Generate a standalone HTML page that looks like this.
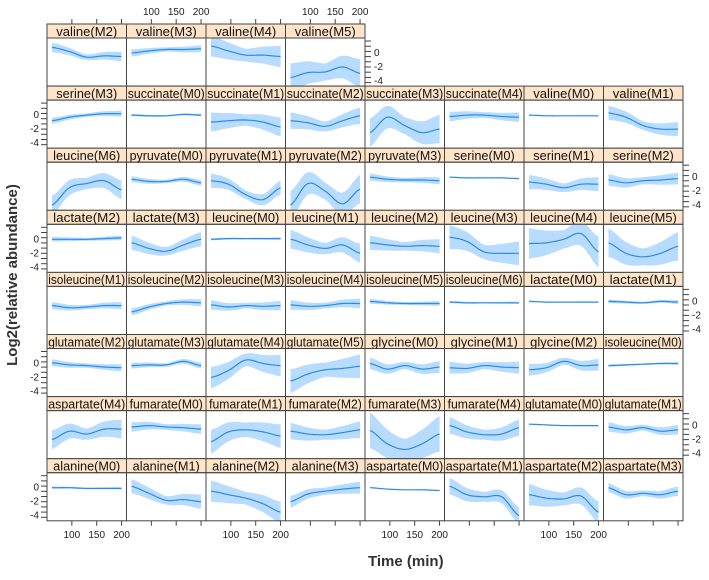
<!DOCTYPE html>
<html><head><meta charset="utf-8"><style>
body{margin:0;background:#fff;}
svg text{font-family:"Liberation Sans",sans-serif;}
</style></head><body>
<svg id="s" width="709" height="575" xmlns="http://www.w3.org/2000/svg"></svg>
<script>
const D=[
[["valine(M2)",[0.8,0.2,-0.6,-0.4,-0.5],.4],["valine(M3)",[0,0.3,0.5,0.5,0.6],.3],["valine(M4)",[1,0.3,-0.3,-0.3,-0.5],.9],["valine(M5)",[-3.5,-2.8,-2.7,-2,-2.9],1.2]],
[["serine(M3)",[-0.8,-0.3,0,0.2,0.2],.25],["succinate(M0)",[0,-0.1,-0.1,0.1,0],.1],["succinate(M1)",[-1,-0.8,-0.7,-1,-1.7],.8],["succinate(M2)",[-0.8,-1.1,-1.6,-0.8,-0.1],.7],["succinate(M3)",[-2.5,-0.3,-1.5,-2.5,-2],1.2],["succinate(M4)",[-0.2,0,0,-0.2,-0.3],.4],["valine(M0)",[0,-0.1,-0.1,-0.1,-0.1],.05],["valine(M1)",[0.3,-0.3,-1.5,-2,-2],.6]],
[["leucine(M6)",[-4,-1.5,-0.9,-0.5,-1.8],.8],["pyruvate(M0)",[-0.3,-0.6,-0.6,-0.3,-0.8],.25],["pyruvate(M1)",[-0.5,-1,-2.5,-3.2,-1.5],.6],["pyruvate(M2)",[-4,-0.9,-2,-3.8,-1.7],1.2],["pyruvate(M3)",[0,-0.3,-0.4,-0.4,-0.5],.3],["serine(M0)",[0,-0.1,-0.1,-0.1,-0.2],.05],["serine(M1)",[-0.7,-1,-1.5,-1,-1],.6],["serine(M2)",[-0.4,-0.8,-0.5,-0.4,-0.2],.5]],
[["lactate(M2)",[0,0,0,0.1,0.2],.2],["lactate(M3)",[-0.5,-1.3,-1.7,-0.8,0],.6],["leucine(M0)",[0,0.1,0.1,0.1,0.1],.1],["leucine(M1)",[0,-0.8,-1.3,-0.8,-2],.8],["leucine(M2)",[-0.5,-0.8,-1,-0.9,-1],.6],["leucine(M3)",[0.3,-0.3,-1.8,-2,-2],1],["leucine(M4)",[-0.6,-0.5,0,0.8,-1.8],1.3],["leucine(M5)",[-0.5,-2,-2.5,-2,-1],1.2]],
[["isoleucine(M1)",[-0.6,-0.9,-0.8,-0.6,-0.6],.3],["isoleucine(M2)",[-1.5,-0.8,-0.3,-0.1,-0.2],.3],["isoleucine(M3)",[-0.5,-0.8,-0.6,-0.7,-0.6],.4],["isoleucine(M4)",[-0.5,-0.7,-0.6,-0.3,-0.3],.4],["isoleucine(M5)",[0,-0.2,-0.3,-0.3,-0.3],.2],["isoleucine(M6)",[-0.1,-0.2,-0.2,-0.2,-0.2],.1],["lactate(M0)",[0,-0.1,-0.1,-0.1,-0.1],.05],["lactate(M1)",[0,-0.1,-0.2,0,-0.1],.15]],
[["glutamate(M2)",[0.1,-0.2,-0.3,-0.5,-0.6],.3],["glutamate(M3)",[-0.3,-0.2,-0.2,0.3,-0.3],.25],["glutamate(M4)",[-2,-1,0.5,0,-0.3],.9],["glutamate(M5)",[-2.5,-1.5,-0.9,-0.7,-0.4],1],["glycine(M0)",[0,-0.8,-0.3,-0.8,-0.5],.5],["glycine(M1)",[-0.6,-0.7,-0.3,-0.5,-0.6],.5],["glycine(M2)",[-0.9,-0.6,0.3,-0.3,-0.2],.5],["isoleucine(M0)",[-0.3,-0.2,-0.1,0,0],.1]],
[["aspartate(M4)",[-2,-0.8,-1.2,-0.5,-0.5],.8],["fumarate(M0)",[-0.2,0,-0.2,-0.3,-0.5],.4],["fumarate(M1)",[-2.3,-0.9,-0.6,-0.9,-1.5],1],["fumarate(M2)",[-0.8,-1.2,-1.3,-1,-0.6],.7],["fumarate(M3)",[-0.7,-2.6,-3.4,-2.6,-1.2],1.5],["fumarate(M4)",[0,-0.9,-1.3,-1.2,-0.3],.7],["glutamate(M0)",[0.2,0.1,0,0,0],.05],["glutamate(M1)",[-0.2,-0.6,-0.3,-0.8,-0.6],.4]],
[["alanine(M0)",[0,0,-0.1,-0.1,-0.1],.1],["alanine(M1)",[0.2,-0.8,-1.8,-1.7,-2],.6],["alanine(M2)",[-0.5,-1,-1.5,-2.3,-3.5],.9],["alanine(M3)",[-2,-0.9,-0.5,-0.2,0],.5],["aspartate(M0)",[0,-0.2,-0.3,-0.3,-0.4],.05],["aspartate(M1)",[0.2,-1,-1.3,-1.3,-4],.7],["aspartate(M2)",[-1,-1.5,-1.6,-1.2,-3.5],.9],["aspartate(M3)",[0,-1,-0.8,-1,-0.5],.4]]
];
const X0=47,CW=79.5,Y0=24,RP=62.1,SH=14;
let h='';
function interp(v,t){
 let i=Math.min(3,Math.floor(t)),f=t-i;
 let p0=v[Math.max(0,i-1)],p1=v[i],p2=v[i+1],p3=v[Math.min(4,i+2)];
 return 0.5*((2*p1)+(-p0+p2)*f+(2*p0-5*p1+4*p2-p3)*f*f+(-p0+3*p1-3*p2+p3)*f*f*f);
}
function tx(px,t){return px+(t-50)*0.497;}
D.forEach((row,r)=>{
 const st=Y0+RP*r, pt=st+SH, pb=Y0+RP*(r+1);
 row.forEach((p,c)=>{
  const px=X0+CW*c;
  const yv=v=>pt+15-7*v;
  let up=[],lo=[],ln=[];
  for(let k=0;k<=40;k++){
   const t=k/10, T=60+t*35, x=tx(px,T), y=interp(p[1],t);
   const w=p[2]*(1+0.7*Math.abs(t-2)/2);
   up.push([x,Math.max(pt,yv(y+w))]);lo.push([x,Math.min(pb,yv(y-w))]);ln.push(x.toFixed(1)+','+yv(y).toFixed(1));
  }
  h+=`<rect x="${px}" y="${st}" width="${CW}" height="${SH}" fill="#ffe4c8" stroke="#444" stroke-width="1"/>`;
  h+=`<text x="${px+CW/2}" y="${st+11.8}" font-size="12.5" text-anchor="middle" fill="#111" textLength="${Math.min(77,p[0].length*6.1)}" lengthAdjust="spacingAndGlyphs">${p[0]}</text>`;
  const poly=up.concat(lo.reverse()).map(q=>q[0].toFixed(1)+','+q[1].toFixed(1)).join(' ');
  h+=`<polygon points="${poly}" fill="#b8dcff"/>`;
  h+=`<polyline points="${ln.join(' ')}" fill="none" stroke="#2a8ae8" stroke-width="1.2"/>`;
  h+=`<rect x="${px}" y="${pt}" width="${CW}" height="${pb-pt}" fill="none" stroke="#444" stroke-width="1"/>`;
  [100,150,200].forEach(T=>{const x=tx(px,T);
   if(r==7){h+=`<line x1="${x}" y1="${pb}" x2="${x}" y2="${pb+5}" stroke="#444"/>`;
     if(c%2==0)h+=`<text x="${x}" y="${pb+17}" font-size="10" text-anchor="middle" fill="#222">${T}</text>`;}
   if(r==0){h+=`<line x1="${x}" y1="${st}" x2="${x}" y2="${st-5}" stroke="#444"/>`;
     if(c%2==1)h+=`<text x="${x}" y="${st-9}" font-size="10" text-anchor="middle" fill="#222">${T}</text>`;}
  });
 });
 const n=row.length, rx=X0+CW*n;
 const odd=r%2==1;
 for(let k=0;k<9;k++){const y=pt+3+k*5.2;
  if(odd) h+=`<line x1="${X0-6}" y1="${y}" x2="${X0}" y2="${y}" stroke="#444"/>`;
  else h+=`<line x1="${rx}" y1="${y}" x2="${rx+6}" y2="${y}" stroke="#444"/>`;
 }
 [[0,15],[-2,29],[-4,43]].forEach(([v,dy])=>{
  if(odd) h+=`<text x="${X0-8}" y="${pt+dy+3}" font-size="10" text-anchor="end" fill="#222">${v}</text>`;
  else h+=`<text x="${rx+9}" y="${pt+dy+3}" font-size="10" fill="#222">${v}</text>`;
 });
});
h+=`<text x="368" y="566" font-size="15" font-weight="bold" fill="#333">Time (min)</text>`;
h+=`<text transform="translate(17,275) rotate(-90)" font-size="15" font-weight="bold" text-anchor="middle" fill="#333">Log2(relative abundance)</text>`;
document.getElementById('s').innerHTML=h;
</script>
</body></html>
